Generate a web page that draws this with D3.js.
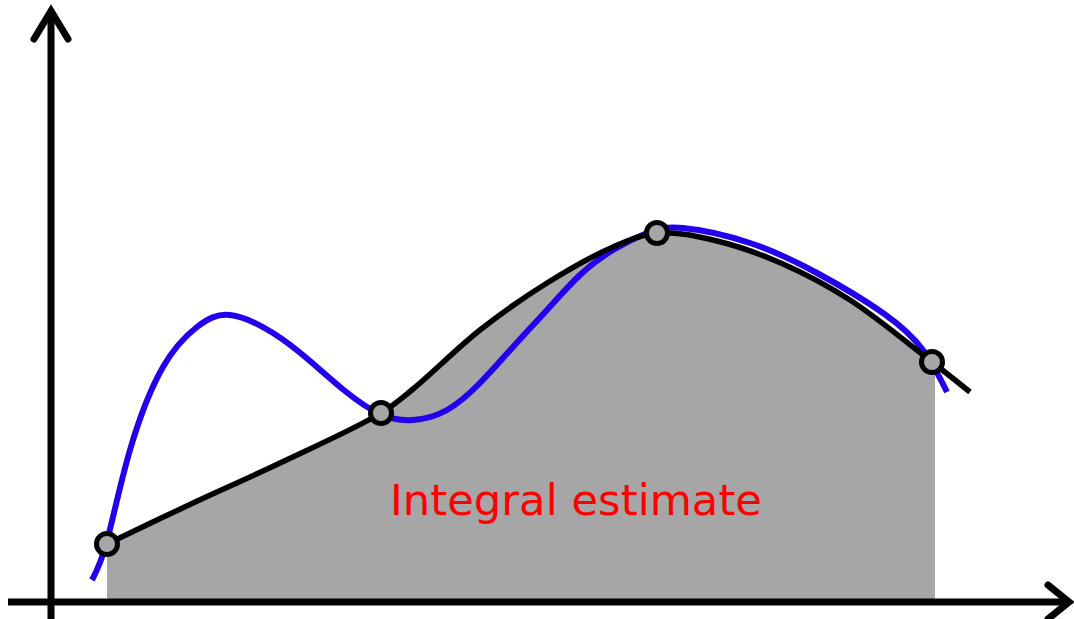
<!DOCTYPE html>
<html>
<head>
<meta charset="utf-8">
<script src="https://cdn.jsdelivr.net/npm/d3@7"></script>
<style>
html,body{margin:0;padding:0;background:#fff;}
svg{display:block;}
</style>
</head>
<body>
<svg id="chart" width="1074" height="619"></svg>
<script>
// ---- data (abstract units) ----
const knotX = [0.56, 3.30, 6.06, 8.81];
const knotY = [0.58, 1.89, 3.69, 2.40];

const estimateX = [0.46, 0.56, 1.40, 2.29, 3.30, 3.62, 4.29, 4.96, 5.62, 6.06, 6.66, 7.32, 7.99, 8.81, 9.19];
const estimateY = [0.53, 0.58, 0.98, 1.39, 1.89, 2.13, 2.72, 3.19, 3.55, 3.69, 3.61, 3.38, 3.02, 2.40, 2.10];

const trueX = [0.41, 0.56, 0.79, 1.12, 1.46, 1.79, 2.22, 2.59, 2.94, 3.29, 3.62, 3.96, 4.29, 4.62, 4.96, 5.29, 5.62, 5.96, 6.32, 6.99, 7.66, 8.32, 8.72, 8.96];
const trueY = [0.22, 0.61, 1.52, 2.35, 2.75, 2.87, 2.69, 2.41, 2.11, 1.88, 1.82, 1.92, 2.19, 2.55, 2.92, 3.27, 3.52, 3.69, 3.74, 3.59, 3.29, 2.89, 2.52, 2.10];

const integralRange = [0.56, 8.84];
const labelText = "Integral estimate";

// ---- layout ----
const W = 1074, H = 619;
const svg = d3.select("#chart");
const x = d3.scaleLinear().domain([0, 10]).range([51, 1051]);
const y = d3.scaleLinear().domain([0, 6]).range([602, 2]);

const est = estimateX.map((v, i) => ({x: v, y: estimateY[i]}));
const tru = trueX.map((v, i) => ({x: v, y: trueY[i]}));
const knots = knotX.map((v, i) => ({x: v, y: knotY[i]}));

// clip for integral area
svg.append("defs").append("clipPath").attr("id", "clipInt")
  .append("rect")
  .attr("x", x(integralRange[0]))
  .attr("y", 0)
  .attr("width", x(integralRange[1]) - x(integralRange[0]))
  .attr("height", y(0));

const estCurve = d3.curveCatmullRom.alpha(0.5);
const truCurve = d3.curveNatural;
const area = d3.area().x(d => x(d.x)).y0(y(0)).y1(d => y(d.y)).curve(estCurve);
svg.append("path").datum(est)
  .attr("d", area)
  .attr("fill", "#a6a6a6")
  .attr("clip-path", "url(#clipInt)");

// label
svg.append("text")
  .attr("x", 390).attr("y", 515)
  .attr("font-family", "'Comic Sans MS', 'DejaVu Sans', sans-serif")
  .attr("font-size", 43)
  .attr("fill", "#ff0000")
  .attr("textLength", 372)
  .attr("lengthAdjust", "spacingAndGlyphs")
  .text(labelText);

// axes
const axisG = svg.append("g").attr("stroke", "#000").attr("stroke-width", 7).attr("fill", "none");
axisG.append("line").attr("x1", x(0)).attr("x2", x(0)).attr("y1", 12).attr("y2", H);
axisG.append("line").attr("x1", 8).attr("x2", 1068).attr("y1", y(0)).attr("y2", y(0));
axisG.append("polyline")
  .attr("points", `${x(0)-17},39 ${x(0)},11 ${x(0)+17},39`)
  .attr("stroke-linecap", "round").attr("stroke-linejoin", "miter");
axisG.append("polyline")
  .attr("points", `1048,585 1069,${y(0)} 1048,619`)
  .attr("stroke-linecap", "round").attr("stroke-linejoin", "miter");

// true function (blue)
svg.append("path").datum(tru)
  .attr("d", d3.line().x(d => x(d.x)).y(d => y(d.y)).curve(truCurve))
  .attr("fill", "none")
  .attr("stroke", "#2200ee")
  .attr("stroke-width", 6);

// estimate (black)
svg.append("path").datum(est)
  .attr("d", d3.line().x(d => x(d.x)).y(d => y(d.y)).curve(estCurve))
  .attr("fill", "none")
  .attr("stroke", "#000")
  .attr("stroke-width", 5.5);

// knots
svg.selectAll("circle.knot").data(knots).enter().append("circle")
  .attr("class", "knot")
  .attr("cx", d => x(d.x)).attr("cy", d => y(d.y))
  .attr("r", 10.5)
  .attr("fill", "#a6a6a6")
  .attr("stroke", "#000")
  .attr("stroke-width", 5);
</script>
</body>
</html>
